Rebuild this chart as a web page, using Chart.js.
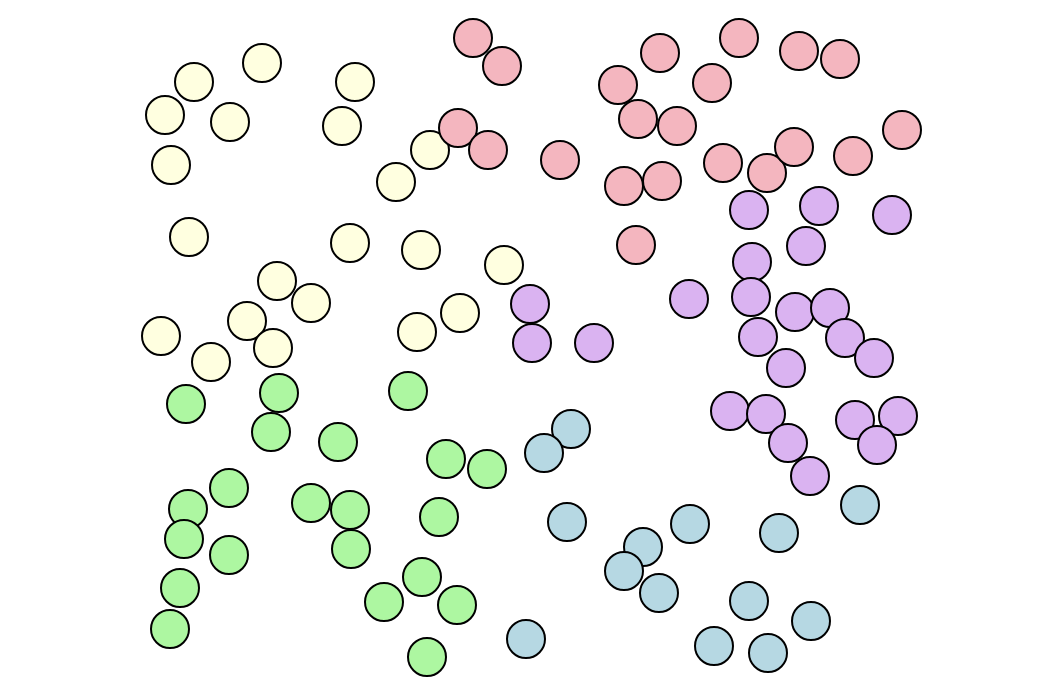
<!DOCTYPE html>
<html>
<head>
<meta charset="utf-8">
<script src="https://cdn.jsdelivr.net/npm/chart.js@4/dist/chart.umd.min.js"></script>
<style>
  html, body { margin: 0; padding: 0; background: #ffffff; }
  #wrap { width: 1057px; height: 696px; }
</style>
</head>
<body>
<div id="wrap"><canvas id="bubbleChart" width="1057" height="696"></canvas></div>
<script>

// group values (x, y)
var yellowX = [1.94, 2.62, 1.65, 2.30, 1.71, 3.55, 3.42, 4.30, 3.96, 1.89, 3.50, 4.21, 5.04, 2.77, 3.11, 2.47, 1.61, 2.73, 2.11, 4.17, 4.60];
var yellowY = [6.14, 6.33, 5.81, 5.74, 5.31, 6.14, 5.70, 5.46, 5.14, 4.59, 4.53, 4.46, 4.31, 4.15, 3.93, 3.75, 3.60, 3.48, 3.34, 3.64, 3.83];

var pinkX = [4.73, 5.02, 4.58, 4.88, 5.60, 6.60, 7.39, 7.99, 8.40, 6.18, 7.12, 6.38, 6.77, 6.24, 6.62, 7.23, 7.67, 7.94, 8.53, 9.02, 6.36];
var pinkY = [6.58, 6.30, 5.68, 5.46, 5.36, 6.43, 6.58, 6.45, 6.37, 6.11, 6.13, 5.77, 5.70, 5.10, 5.15, 5.33, 5.23, 5.49, 5.40, 5.66, 4.51];

var purpleX = [7.49, 8.19, 8.92, 8.06, 7.52, 5.30, 5.32, 5.94, 6.89, 7.51, 7.95, 8.30, 7.58, 8.45, 8.74, 7.86, 7.30, 7.66, 7.88, 8.55, 8.98, 8.77, 8.10];
var purpleY = [4.86, 4.90, 4.81, 4.50, 4.34, 3.92, 3.53, 3.53, 3.97, 3.99, 3.84, 3.88, 3.59, 3.58, 3.38, 3.28, 2.85, 2.82, 2.53, 2.76, 2.80, 2.51, 2.20];

var greenX = [1.86, 2.79, 4.08, 2.71, 3.38, 4.46, 4.87, 2.29, 1.88, 1.84, 3.11, 3.50, 4.39, 2.29, 3.51, 1.80, 4.22, 3.84, 4.57, 1.70, 4.27];
var greenY = [2.92, 3.03, 3.05, 2.64, 2.54, 2.37, 2.27, 2.08, 1.87, 1.57, 1.93, 1.86, 1.79, 1.41, 1.47, 1.08, 1.19, 0.94, 0.91, 0.67, 0.39];

var blueX = [5.71, 5.44, 5.67, 6.90, 6.43, 7.79, 8.60, 6.24, 6.59, 7.49, 5.26, 8.11, 7.14, 7.68];
var blueY = [2.67, 2.43, 1.74, 1.72, 1.49, 1.63, 1.91, 1.25, 1.03, 0.95, 0.57, 0.75, 0.50, 0.43];

function toPoints(xs, ys) {
    return xs.map(function (x, i) {
        return { x: x, y: ys[i] };
    });
}

function group(label, xs, ys, color) {
    return {
        label: label,
        data: toPoints(xs, ys),
        backgroundColor: color,
        borderColor: "#000000",
        borderWidth: 2,
        pointRadius: 19,
        pointHoverRadius: 19,
        clip: false
    };
}

// first dataset is drawn on top, so the bottom group comes last
new Chart(
    document.getElementById("bubbleChart"),
    {
        type: "scatter",

        data: {
            datasets: [
                group("blue", blueX, blueY, "#b6d8e3"),
                group("green", greenX, greenY, "#adf7a1"),
                group("purple", purpleX, purpleY, "#dab3f1"),
                group("pink", pinkX, pinkY, "#f4b6bf"),
                group("yellow", yellowX, yellowY, "#ffffe0")
            ]
        },

        options: {
            responsive: false,
            animation: false,
            layout: { padding: 0, autoPadding: false },

            plugins: {
                legend: { display: false },
                tooltip: { enabled: false }
            },

            scales: {
                x: {
                    type: "linear",
                    min: 0,
                    max: 10.57,
                    display: false
                },
                y: {
                    type: "linear",
                    min: 0,
                    max: 6.96,
                    display: false
                }
            }
        }
    }
);

</script>
</body>
</html>
